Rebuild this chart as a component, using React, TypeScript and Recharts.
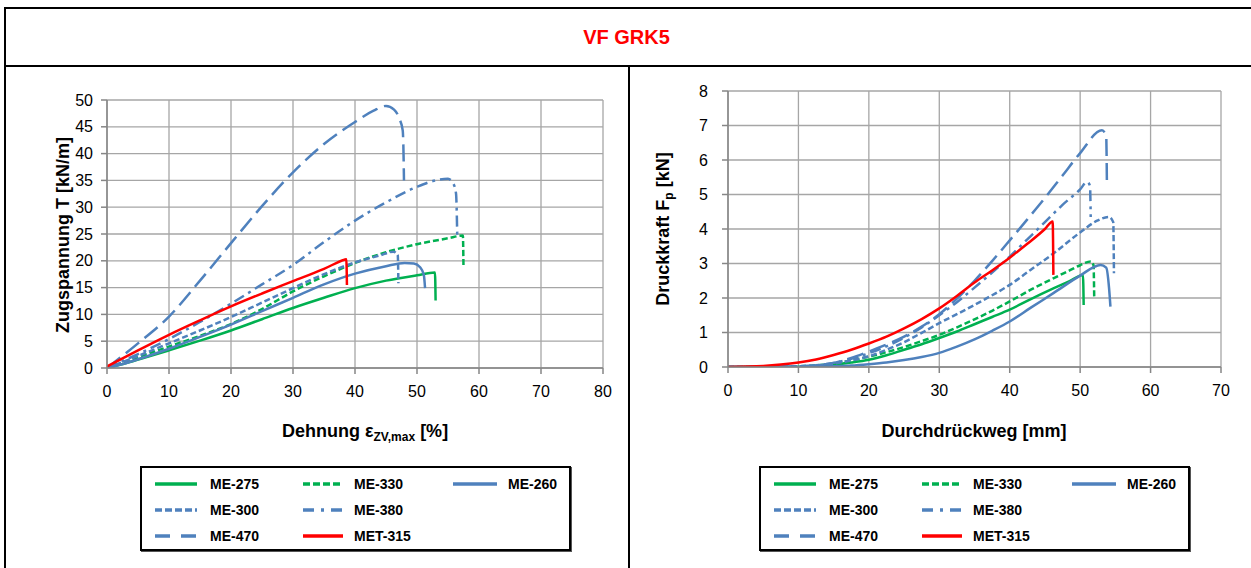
import React from 'react';
import { LineChart, Line, XAxis, YAxis, CartesianGrid } from 'recharts';

// ---------- data ----------
const SERIES_NAMES = ['ME-275', 'ME-330', 'ME-260', 'ME-300', 'ME-380', 'ME-470', 'MET-315'];

const STRAIN_TICKS = [0, 10, 20, 30, 40, 50, 60, 70, 80];
const TENSION_TICKS = [0, 5, 10, 15, 20, 25, 30, 35, 40, 45, 50];
const PUSH_TICKS = [0, 10, 20, 30, 40, 50, 60, 70];
const FORCE_TICKS = [0, 1, 2, 3, 4, 5, 6, 7, 8];

// left chart: Dehnung [%] vs Zugspannung [kN/m]
const T_ME275 = [[0,0],[3,0.9],[6,1.9],[10,3.3],[15,5.1],[20,7.0],[25,9.1],[30,11.2],[35,13.1],[40,14.9],[45,16.3],[50,17.3],[52.9,17.8],[53,12.6]];
const T_ME330 = [[0,0],[3,1.2],[6,2.4],[10,4.0],[15,6.0],[20,8.2],[25,11.0],[30,14.3],[35,17.1],[40,19.6],[45,21.6],[50,23.1],[55,24.2],[57.4,24.7],[57.5,18.6]];
const T_ME260 = [[0,0],[3,0.9],[6,2.0],[10,3.6],[15,5.8],[20,8.1],[25,10.6],[30,13.1],[35,15.6],[40,17.6],[45,19.0],[48,19.6],[49.5,19.5],[50.5,18.8],[51.1,17.4],[51.3,14.9]];
const T_ME300 = [[0,0],[3,1.3],[6,2.7],[10,4.6],[15,7.0],[20,9.5],[25,12.2],[30,14.9],[35,17.5],[40,19.7],[44,21.0],[46.2,21.7],[46.9,21.0],[47,15.8]];
const T_ME380 = [[0,0],[5,2.6],[10,5.4],[15,8.6],[20,12.0],[25,15.6],[30,19.2],[35,23.5],[40,27.5],[45,30.9],[50,33.8],[53,35.0],[55,35.3],[55.9,34.3],[56.3,32.5],[56.5,24.2]];
const T_ME470 = [[0,0],[5,4.6],[10,9.6],[15,16.3],[20,23.3],[25,30.2],[30,36.5],[35,41.8],[40,45.9],[43,48.0],[45,48.9],[46.3,48.2],[47.2,46.4],[47.7,44.3],[47.8,41.5],[47.9,35]];
const T_MET315 = [[0,0.3],[5,3.3],[10,6.2],[15,8.9],[20,11.5],[25,13.9],[30,16.2],[35,18.5],[38.3,20.2],[38.6,20.3],[38.7,15.5]];

// right chart: Durchdrückweg [mm] vs Druckkraft [kN]
const F_ME275 = [[0,0],[10,0.01],[15,0.07],[17.5,0.13],[20,0.21],[22.5,0.34],[25,0.5],[27.5,0.66],[30,0.84],[32.5,1.03],[35,1.24],[37.5,1.45],[40,1.66],[43,1.97],[46.2,2.28],[48.5,2.49],[50.4,2.67],[50.5,1.8]];
const F_ME330 = [[0,0],[10,0.02],[15,0.1],[17.5,0.19],[20,0.3],[22.5,0.43],[25,0.58],[27.5,0.75],[30,0.93],[32.5,1.15],[35,1.38],[37.5,1.63],[40,1.9],[43,2.24],[46.2,2.57],[48.5,2.8],[50,2.95],[51.5,3.06],[51.9,2.95],[52,1.99]];
const F_ME260 = [[0,0],[10,0],[15,0.02],[17.5,0.04],[20,0.08],[22.5,0.13],[25,0.2],[27.5,0.29],[30,0.41],[32.5,0.59],[35,0.8],[37.5,1.05],[40,1.32],[43,1.72],[46.2,2.14],[50,2.65],[52.9,2.96],[53.7,2.88],[54.1,2.3],[54.3,1.75]];
const F_ME300 = [[0,0],[10,0.02],[15,0.1],[17.5,0.19],[20,0.31],[22.5,0.5],[25,0.72],[27.5,0.99],[30,1.27],[32.5,1.53],[35,1.8],[37.5,2.08],[40,2.38],[43,2.82],[46.2,3.29],[50,3.9],[52.5,4.25],[54.1,4.35],[54.7,4.2],[54.8,2.72]];
const F_ME380 = [[0,0],[10,0.02],[15,0.12],[17.5,0.24],[20,0.4],[22.5,0.6],[25,0.85],[27.5,1.15],[30,1.5],[32.5,1.88],[35,2.3],[37.5,2.74],[40,3.2],[42.5,3.7],[45,4.2],[47.5,4.7],[50,5.15],[51,5.37],[51.4,5.25],[51.5,4.35]];
const F_ME470 = [[0,0],[10,0.02],[15,0.12],[17.5,0.26],[20,0.45],[22.5,0.65],[25,0.88],[27.5,1.17],[30,1.53],[32.5,1.98],[35,2.5],[37.5,3.07],[40,3.67],[42.5,4.28],[45,4.9],[47.5,5.55],[50,6.2],[53.1,6.86],[53.7,6.7],[53.8,5.3]];
const F_MET315 = [[0,0],[5,0.03],[7.5,0.07],[10,0.13],[12.5,0.22],[15,0.35],[17.5,0.5],[20,0.68],[22.5,0.88],[25,1.12],[27.5,1.39],[30,1.7],[32.5,2.06],[35,2.45],[37.5,2.8],[40,3.17],[42.5,3.57],[45,4.0],[46.1,4.22],[46.2,2.67]];

const LEFT_DATA = [T_ME275, T_ME330, T_ME260, T_ME300, T_ME380, T_ME470, T_MET315];
const RIGHT_DATA = [F_ME275, F_ME330, F_ME260, F_ME300, F_ME380, F_ME470, F_MET315];

// ---------- styles ----------
const GREEN = '#00B050';
const BLUE = '#4F81BD';
const RED = '#FF0000';
const STYLES = [
  { color: GREEN, dash: undefined, legendDash: undefined },
  { color: GREEN, dash: '6 3', legendDash: '7 3' },
  { color: BLUE, dash: undefined, legendDash: undefined },
  { color: BLUE, dash: '6 3', legendDash: '7 3' },
  { color: BLUE, dash: '11 5 3 5', legendDash: '11 7 3 7' },
  { color: BLUE, dash: '17 7', legendDash: '15 11' },
  { color: RED, dash: undefined, legendDash: undefined },
];

const FONT = "'Liberation Sans', Arial, sans-serif";
const GRID = '#A6A6A6';
const AXIS = '#868686';

const toPts = (arr: number[][]) => arr.map(([x, y]) => ({ x, y }));

// legend layout: [column, row]
const LEGEND_POS = [[0, 0], [1, 0], [2, 0], [0, 1], [1, 1], [0, 2], [1, 2]];
const COL_LINE_X = [13, 161, 311];
const COL_LINE_W = [42, 40, 44];
const COL_TEXT_X = [68, 212, 366];
const ROW_Y = [16, 42, 68];

function LegendBox({ left }: { left: number }) {
  return (
    <div style={{ position: 'absolute', left, top: 466, width: 431, height: 85, border: '2px solid #000', boxSizing: 'border-box', background: '#fff', boxShadow: '1px 1px 0 #555' }}>
      {SERIES_NAMES.map((name, i) => {
        const [c, r] = LEGEND_POS[i];
        const st = STYLES[i];
        return (
          <React.Fragment key={name}>
            <svg style={{ position: 'absolute', left: COL_LINE_X[c], top: ROW_Y[r] - 4 }} width={COL_LINE_W[c]} height={8}>
              <line x1={0} y1={4} x2={COL_LINE_W[c]} y2={4} stroke={st.color} strokeWidth={3.5} strokeDasharray={st.legendDash} />
            </svg>
            <div style={{ position: 'absolute', left: COL_TEXT_X[c], top: ROW_Y[r] - 9, height: 18, lineHeight: '18px', fontFamily: FONT, fontWeight: 'bold', fontSize: 14, color: '#000', whiteSpace: 'nowrap' }}>{name}</div>
          </React.Fragment>
        );
      })}
    </div>
  );
}

const tickStyle = { fontFamily: FONT, fontSize: 16, fill: '#000' };
const labelStyle: React.CSSProperties = { position: 'absolute', fontFamily: FONT, fontWeight: 'bold', fontSize: 18, lineHeight: '18px', color: '#000', whiteSpace: 'nowrap' };
const subStyle: React.CSSProperties = { fontSize: 12, lineHeight: 0, verticalAlign: '-4px' };

export default function App() {
  return (
    <div style={{ position: 'absolute', left: 0, top: 0, width: 1251, height: 568, overflow: 'hidden', background: '#fff' }}>
      {/* frame */}
      <div style={{ position: 'absolute', left: 5, top: 7, width: 1260, height: 2, background: '#000' }} />
      <div style={{ position: 'absolute', left: 4, top: 7, width: 2, height: 600, background: '#000' }} />
      <div style={{ position: 'absolute', left: 5, top: 65, width: 1260, height: 2, background: '#000' }} />
      <div style={{ position: 'absolute', left: 628, top: 66, width: 2, height: 600, background: '#000' }} />
      <div style={{ position: 'absolute', left: 0, top: 9, width: 1253, height: 56, lineHeight: '56px', textAlign: 'center', fontFamily: FONT, fontWeight: 'bold', fontSize: 20, color: RED }}>VF GRK5</div>

      {/* left chart */}
      <div style={{ position: 'absolute', left: 0, top: 70 }}>
        <LineChart width={628} height={390} margin={{ top: 30, right: 25, bottom: 20, left: 37 }}>
          <CartesianGrid stroke={GRID} strokeWidth={1.3} />
          <XAxis type="number" dataKey="x" domain={[0, 80]} ticks={STRAIN_TICKS} interval={0} height={72} tickSize={6} tickMargin={12} tick={tickStyle} axisLine={{ stroke: AXIS, strokeWidth: 1.5 }} tickLine={{ stroke: AXIS, strokeWidth: 1.5 }} allowDataOverflow />
          <YAxis type="number" dataKey="y" domain={[0, 50]} ticks={TENSION_TICKS} interval={0} width={70} tickSize={6} tickMargin={8} tick={tickStyle} axisLine={{ stroke: AXIS, strokeWidth: 1.5 }} tickLine={{ stroke: AXIS, strokeWidth: 1.5 }} allowDataOverflow />
          {LEFT_DATA.map((d, i) => (
            <Line key={SERIES_NAMES[i]} name={SERIES_NAMES[i]} data={toPts(d)} dataKey="y" type="monotone" dot={false} activeDot={false} stroke={STYLES[i].color} strokeWidth={2.5} strokeDasharray={STYLES[i].dash} isAnimationActive={false} />
          ))}
        </LineChart>
      </div>
      <div style={{ ...labelStyle, left: 63, top: 235, transform: 'translate(-50%, -50%) rotate(-90deg)' }}>Zugspannung T [kN/m]</div>
      <div style={{ ...labelStyle, left: 282, top: 431, transform: 'translateY(-50%)' }}>Dehnung ε<span style={subStyle}>ZV,max</span> [%]</div>
      <LegendBox left={140} />

      {/* right chart */}
      <div style={{ position: 'absolute', left: 629, top: 70 }}>
        <LineChart width={620} height={390} margin={{ top: 21, right: 28, bottom: 21, left: 29 }}>
          <CartesianGrid stroke={GRID} strokeWidth={1.3} />
          <XAxis type="number" dataKey="x" domain={[0, 70]} ticks={PUSH_TICKS} interval={0} height={72} tickSize={6} tickMargin={12} tick={tickStyle} axisLine={{ stroke: AXIS, strokeWidth: 1.5 }} tickLine={{ stroke: AXIS, strokeWidth: 1.5 }} allowDataOverflow />
          <YAxis type="number" dataKey="y" domain={[0, 8]} ticks={FORCE_TICKS} interval={0} width={70} tickSize={6} tickMargin={14} tick={tickStyle} axisLine={{ stroke: AXIS, strokeWidth: 1.5 }} tickLine={{ stroke: AXIS, strokeWidth: 1.5 }} allowDataOverflow />
          {RIGHT_DATA.map((d, i) => (
            <Line key={SERIES_NAMES[i]} name={SERIES_NAMES[i]} data={toPts(d)} dataKey="y" type="monotone" dot={false} activeDot={false} stroke={STYLES[i].color} strokeWidth={2.5} strokeDasharray={STYLES[i].dash} isAnimationActive={false} />
          ))}
        </LineChart>
      </div>
      <div style={{ ...labelStyle, left: 663, top: 229, transform: 'translate(-50%, -50%) rotate(-90deg)' }}>Druckkraft F<span style={subStyle}>p</span> [kN]</div>
      <div style={{ ...labelStyle, left: 974, top: 431, transform: 'translate(-50%, -50%)' }}>Durchdrückweg [mm]</div>
      <LegendBox left={759} />
    </div>
  );
}
